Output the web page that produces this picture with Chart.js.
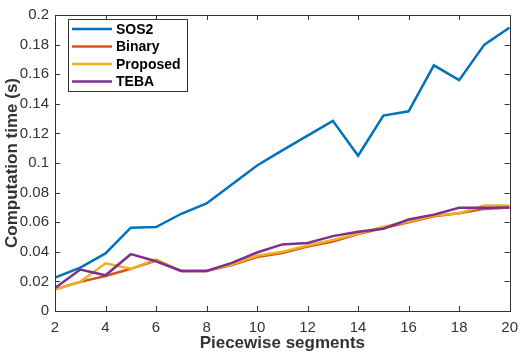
<!DOCTYPE html>
<html>
<head>
<meta charset="utf-8">
<script src="https://cdn.jsdelivr.net/npm/chart.js@4/dist/chart.umd.min.js"></script>
<style>
  html, body { margin: 0; padding: 0; background: #fff; }
  #wrap { width: 526px; height: 358px; position: relative; }
</style>
</head>
<body>
<div id="wrap"><canvas id="chart"></canvas></div>
<script>
// Computation time vs piecewise segments (MATLAB-style line plot)

var segments = [2, 3, 4, 5, 6, 7, 8, 9, 10, 11, 12, 13, 14, 15, 16, 17, 18, 19, 20];

var sos2     = [0.0225, 0.0293, 0.0389, 0.0563, 0.0567, 0.0657, 0.0727, 0.0855, 0.0983, 0.1085, 0.1185, 0.1285, 0.1049, 0.1320, 0.1349, 0.1660, 0.1560, 0.1800, 0.1915];
var binary   = [0.0147, 0.0197, 0.0236, 0.0285, 0.0340, 0.0270, 0.0270, 0.0310, 0.0365, 0.0392, 0.0435, 0.0470, 0.0520, 0.0560, 0.0600, 0.0640, 0.0660, 0.0690, 0.0700];
var proposed = [0.0147, 0.0197, 0.0322, 0.0285, 0.0349, 0.0270, 0.0270, 0.0315, 0.0373, 0.0400, 0.0442, 0.0480, 0.0523, 0.0570, 0.0604, 0.0645, 0.0660, 0.0712, 0.0712];
var teba     = [0.0155, 0.0280, 0.0241, 0.0384, 0.0336, 0.0270, 0.0270, 0.0325, 0.0395, 0.0450, 0.0460, 0.0506, 0.0536, 0.0556, 0.0618, 0.0651, 0.0698, 0.0698, 0.0700];

var xTicks = [2, 4, 6, 8, 10, 12, 14, 16, 18, 20];
var yTicks = [0, 0.02, 0.04, 0.06, 0.08, 0.1, 0.12, 0.14, 0.16, 0.18, 0.2];

var SERIES = [
  { label: "SOS2",     data: sos2,     color: "#0072BD" },
  { label: "Binary",   data: binary,   color: "#D95319" },
  { label: "Proposed", data: proposed, color: "#EDB120" },
  { label: "TEBA",     data: teba,     color: "#7E2F8E" },
];

var AXIS_COLOR = "#333333";
var FONT = "Arial, 'Liberation Sans', sans-serif";

function toPoints(arr) {
  return arr.map(function(v, i) { return { x: segments[i], y: v }; });
}

// Box, inward ticks and in-plot legend, MATLAB style
var matlabFrame = {
  id: "matlabFrame",
  afterDatasetsDraw: function(chart) {
    var ctx = chart.ctx;
    var a = chart.chartArea;
    var xs = chart.scales.x, ys = chart.scales.y;
    var tl = 5;

    ctx.save();
    ctx.strokeStyle = AXIS_COLOR;
    ctx.lineWidth = 1;
    ctx.beginPath();
    xTicks.forEach(function(t) {
      var px = Math.round(xs.getPixelForValue(t)) + 0.5;
      ctx.moveTo(px, a.bottom); ctx.lineTo(px, a.bottom - tl);
      ctx.moveTo(px, a.top);    ctx.lineTo(px, a.top + tl);
    });
    yTicks.forEach(function(t) {
      var py = Math.round(ys.getPixelForValue(t)) + 0.5;
      ctx.moveTo(a.left, py);  ctx.lineTo(a.left + tl, py);
      ctx.moveTo(a.right, py); ctx.lineTo(a.right - tl, py);
    });
    ctx.stroke();
    ctx.strokeRect(Math.round(a.left) + 0.5, Math.round(a.top) + 0.5,
                   Math.round(a.right - a.left), Math.round(a.bottom - a.top));

    // legend box
    var lx = 68, ly = 19, lw = 119, lh = 72;
    ctx.fillStyle = "#fff";
    ctx.fillRect(lx, ly, lw, lh);
    ctx.strokeRect(lx + 0.5, ly + 0.5, lw, lh);
    ctx.font = "bold 14px " + FONT;
    ctx.textBaseline = "middle";
    ctx.textAlign = "left";
    SERIES.forEach(function(s, i) {
      var yy = ly + 10 + i * 17.5;
      ctx.strokeStyle = s.color;
      ctx.lineWidth = 2.5;
      ctx.beginPath();
      ctx.moveTo(lx + 4, yy); ctx.lineTo(lx + 44, yy);
      ctx.stroke();
      ctx.fillStyle = "#000";
      ctx.fillText(s.label, lx + 48, yy + 1);
    });
    ctx.restore();
  }
};

new Chart(document.getElementById("chart"), {
  type: "line",
  data: {
    datasets: SERIES.map(function(s, i) {
      return {
        label: s.label,
        data: toPoints(s.data),
        borderColor: s.color,
        backgroundColor: s.color,
        borderWidth: 2.5,
        pointRadius: 0,
        tension: 0,
        fill: false,
        order: SERIES.length - i,   // later series drawn on top, as in MATLAB
      };
    }),
  },
  options: {
    responsive: true,
    maintainAspectRatio: false,
    animation: false,
    layout: { padding: { top: 9, right: 10, left: 0, bottom: 0 } },
    plugins: { legend: { display: false }, tooltip: { enabled: false } },
    scales: {
      x: {
        type: "linear",
        min: 2, max: 20,
        afterBuildTicks: function(scale) {
          scale.ticks = xTicks.map(function(v) { return { value: v }; });
        },
        afterFit: function(scale) { scale.height = 47; },
        grid: { display: false, drawTicks: false },
        border: { display: false },
        ticks: {
          color: AXIS_COLOR,
          font: { family: FONT, size: 15 },
          padding: 8,
          maxRotation: 0,
          autoSkip: false,
        },
        title: {
          display: true,
          text: "Piecewise segments",
          color: AXIS_COLOR,
          font: { family: FONT, size: 17, weight: "bold" },
          padding: { top: 0, bottom: 4 },
        },
      },
      y: {
        min: 0, max: 0.2,
        afterBuildTicks: function(scale) {
          scale.ticks = yTicks.map(function(v) { return { value: v }; });
        },
        afterFit: function(scale) { scale.width = 55; },
        grid: { display: false, drawTicks: false },
        border: { display: false },
        ticks: {
          color: AXIS_COLOR,
          font: { family: FONT, size: 15 },
          padding: 6,
          autoSkip: false,
          callback: function(v) { return String(Math.round(v * 100) / 100); },
        },
        title: {
          display: true,
          text: "Computation time (s)",
          color: AXIS_COLOR,
          font: { family: FONT, size: 17, weight: "bold" },
          padding: { top: 2, bottom: 0 },
        },
      },
    },
  },
  plugins: [matlabFrame],
});
</script>
</body>
</html>
